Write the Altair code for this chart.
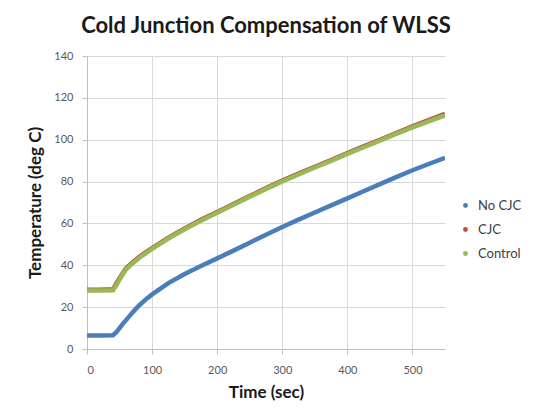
import altair as alt
import pandas as pd

time_sec = [0, 20, 40, 45, 50, 55, 60, 70, 80, 90, 100, 125, 150, 175, 200, 225, 250, 275,
            300, 325, 350, 375, 400, 425, 450, 475, 500, 525, 550]
no_cjc = [6.5, 6.5, 6.6, 8, 10, 12, 13.8, 17.5, 20.8, 23.6, 26.1, 31.5, 35.8, 39.7, 43.3, 47, 50.8, 54.6,
          58.3, 61.8, 65.2, 68.6, 72, 75.4, 78.8, 82.1, 85.4, 88.4, 91.3]
cjc = [28.3, 28.3, 28.5, 31.2, 33.8, 36.2, 38.6, 41.4, 44, 46.2, 48.2, 53.2, 57.6, 61.7, 65.5, 69.3, 73.1, 76.9,
       80.5, 83.8, 87.1, 90.3, 93.6, 96.8, 100, 103.2, 106.4, 109.4, 112.3]
control = [28, 28, 28.1, 30.4, 33.2, 35.7, 38.1, 40.9, 43.5, 45.7, 47.8, 52.8, 57.2, 61.3, 65.1, 68.9, 72.7, 76.5,
           80.1, 83.4, 86.7, 89.9, 93.2, 96.4, 99.6, 102.8, 105.9, 108.8, 111.6]

series_names = ["No CJC", "CJC", "Control"]
series_colors = ["#4a7ebb", "#be4b48", "#98b954"]

rows = []
for idx, (name, vals) in enumerate(zip(series_names, [no_cjc, cjc, control])):
    for t, v in zip(time_sec, vals):
        rows.append({"Time": t, "Temp": v, "Series": name, "order": idx})
df = pd.DataFrame(rows)

FONT = "Lato"

chart = alt.Chart(df).mark_line(strokeWidth=4.5, clip=True).encode(
    x=alt.X("Time:Q", title="Time (sec)",
            scale=alt.Scale(domain=[0, 550], nice=False),
            axis=alt.Axis(values=[0, 100, 200, 300, 400, 500], grid=True)),
    y=alt.Y("Temp:Q", title="Temperature (deg C)",
            scale=alt.Scale(domain=[0, 140], nice=False),
            axis=alt.Axis(values=[0, 20, 40, 60, 80, 100, 120, 140], grid=True)),
    color=alt.Color("Series:N",
                    scale=alt.Scale(domain=series_names, range=series_colors),
                    legend=alt.Legend(title=None, orient="none", legendX=372, legendY=143,
                                      symbolType="circle", symbolSize=6, symbolStrokeWidth=2.5,
                                      labelFont=FONT, labelFontSize=13, labelColor="#404040",
                                      rowPadding=10, labelOffset=6)),
    detail="Series:N",
    order="order:Q",
).properties(
    width=358,
    height=293,
    title=alt.TitleParams("Cold Junction Compensation of WLSS", font=FONT, fontSize=22,
                          fontWeight="bold", color="#1a1a1a", anchor="middle", offset=12),
    padding={"left": 79, "top": 48, "right": 86, "bottom": 53},
    autosize=alt.AutoSizeParams(type="none"),
).configure_view(stroke=None).configure_axis(
    labelFont=FONT, labelFontSize=11, labelColor="#595959",
    titleFont=FONT, titleFontSize=17, titleFontWeight="bold", titleColor="#1a1a1a",
    gridColor="#d9d9d9", gridWidth=1,
    domainColor="#bfbfbf", tickColor="#bfbfbf", tickSize=5,
).configure_axisX(labelPadding=10, titlePadding=9).configure_axisY(labelPadding=9, titlePadding=9)

chart.save("out.html", embed_options={"renderer": "svg", "actions": False})
